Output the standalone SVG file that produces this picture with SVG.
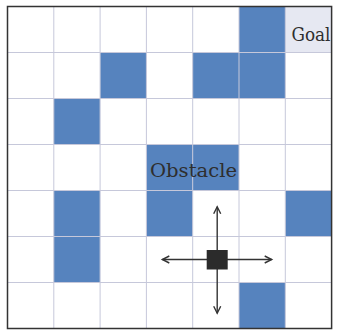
<svg xmlns="http://www.w3.org/2000/svg" width="338" height="331" viewBox="0 0 338 331">
<style>
.blk{fill:#5683be}
.grid{stroke:#c6c8da;stroke-width:1;fill:none}
.lbl{font-family:"DejaVu Serif","Liberation Serif",serif;fill:#2e2e2e}
.arr{stroke:#333;stroke-width:1.4;fill:none}
</style>
<defs>
<marker id="ah" markerUnits="userSpaceOnUse" markerWidth="12" markerHeight="12" viewBox="-8 -6 10 12" refX="0" refY="0" orient="auto">
<path d="M-7,-3.5 L0,0 L-7,3.5" stroke="#333" stroke-width="1.4" fill="none"/>
</marker>
</defs>
<rect width="338" height="331" fill="#fff"/>
<g id="cells">
<rect x="285.3" y="6.5" width="46.3" height="46" fill="#e6e8f2"/>
<rect class="blk" x="239" y="6.5" width="46.3" height="46"/>
<rect class="blk" x="100.1" y="52.5" width="46.3" height="46"/>
<rect class="blk" x="192.7" y="52.5" width="46.3" height="46"/>
<rect class="blk" x="239" y="52.5" width="46.3" height="46"/>
<rect class="blk" x="53.8" y="98.5" width="46.3" height="46"/>
<rect class="blk" x="146.4" y="144.5" width="46.3" height="46"/>
<rect class="blk" x="192.7" y="144.5" width="46.3" height="46"/>
<rect class="blk" x="53.8" y="190.5" width="46.3" height="46"/>
<rect class="blk" x="146.4" y="190.5" width="46.3" height="46"/>
<rect class="blk" x="285.3" y="190.5" width="46.3" height="46"/>
<rect class="blk" x="53.8" y="236.5" width="46.3" height="46"/>
<rect class="blk" x="239" y="282.5" width="46.3" height="46"/>
</g>
<g id="grid" class="grid">
<path d="M53.8,6.5V328.5M100.1,6.5V328.5M146.4,6.5V328.5M192.7,6.5V328.5M239,6.5V328.5M285.3,6.5V328.5"/>
<path d="M7.5,52.5H331.6M7.5,98.5H331.6M7.5,144.5H331.6M7.5,190.5H331.6M7.5,236.5H331.6M7.5,282.5H331.6"/>
</g>
<rect id="border" x="7.5" y="6.5" width="324.1" height="322" fill="none" stroke="#333" stroke-width="1.5"/>
<g id="goal"><text class="lbl" x="291.5" y="40.5" font-size="19" textLength="39" lengthAdjust="spacingAndGlyphs">Goal</text></g>
<g id="obstacle"><text class="lbl" x="150" y="177" font-size="19" textLength="87" lengthAdjust="spacingAndGlyphs">Obstacle</text></g>
<g id="connectors">
<line class="arr" x1="217.2" y1="259.5" x2="217.2" y2="206.7" marker-end="url(#ah)"/>
<line class="arr" x1="217.2" y1="259.5" x2="217.2" y2="313.3" marker-end="url(#ah)"/>
<line class="arr" x1="217.2" y1="259.5" x2="162.3" y2="259.5" marker-end="url(#ah)"/>
<line class="arr" x1="217.2" y1="259.5" x2="271.7" y2="259.5" marker-end="url(#ah)"/>
</g>
<g id="robot"><rect x="206.7" y="250" width="21" height="19.5" fill="#2b2b2b"/></g>
</svg>
